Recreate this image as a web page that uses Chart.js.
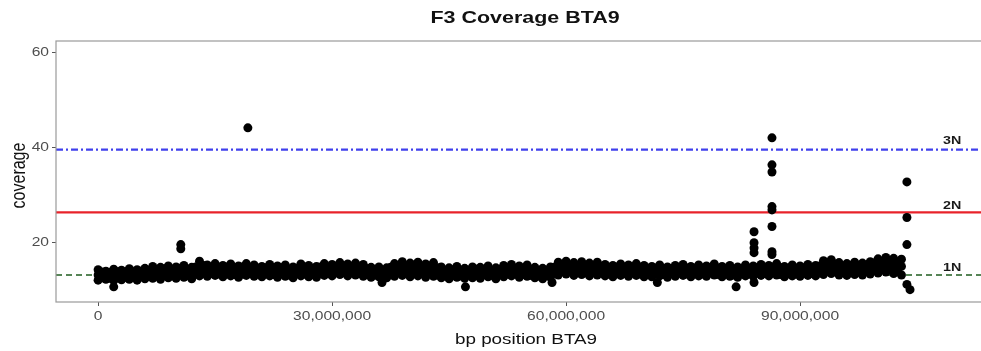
<!DOCTYPE html>
<html>
<head>
<meta charset="utf-8">
<script src="https://cdn.jsdelivr.net/npm/chart.js@4.4.1/dist/chart.umd.min.js"></script>
<style>
  body { margin: 0; background: #fff; }
  canvas { display: block; }
</style>
</head>
<body>
<canvas id="coverageChart" width="981" height="351"></canvas>
<script>
// posiciones en Mb, filas de la banda de cobertura
const bandPos = [0,1,2,3,4,5,6,7,8,9,10,11,12,13,14,15,16,17,18,19,20,21,22,23,24,25,26,27,28,29,30,31,32,33,34,35,36,37,38,39,40,41,42,43,44,45,46,47,48,49,50,51,52,53,54,55,56,57,58,59,60,61,62,63,64,65,66,67,68,69,70,71,72,73,74,75,76,77,78,79,80,81,82,83,84,85,86,87,88,89,90,91,92,93,94,95,96,97,98,99,100,101,102,103];
const bandHigh = [14.3,14.0,14.4,14.2, 14.5,14.3,14.6, 15.0,14.8,15.1, 14.9,15.2,14.8, 16.1,
  15.3,15.6,15.2,15.5,15.1,15.6,15.3, 15.0,15.4,15.1,15.3,14.9,15.5,15.2,15.0,
  15.6,15.4,15.8,15.5,15.7,15.4, 14.8,14.9,14.7, 15.6,16.0,15.7,15.9,15.5,15.8,
  14.9,14.7,15.0,14.6,14.9,14.8,15.1,14.7, 15.2,15.4,15.1,15.3, 14.8,14.6,14.9,
  15.9,16.1,15.8,16.0,15.7,15.9, 15.4,15.2,15.5,15.3,15.6,15.2,
  15.0,15.3,14.9,15.2,15.4,15.0,15.3,15.1,15.5,15.0,15.2,14.9,15.3,15.1,15.4,15.2,15.6,15.0,15.3,15.1,15.4,15.2,
  16.2,16.4, 15.8,15.6,15.9,15.7,16.0, 16.6,16.9,16.7,16.5];
const bandMid = [13.2,13.4,13.1,13.3, 13.4,13.2,13.5, 13.8,13.6,13.9, 13.7,14.0,13.8, 14.6,
  14.1,14.3,14.0,14.2,13.9,14.3,14.1, 14.0,14.2,13.9,14.1,13.8,14.2,14.0,13.9,
  14.3,14.2,14.5,14.2,14.4,14.1, 13.8,13.9,13.7, 14.3,14.6,14.4,14.5,14.2,14.4,
  13.8,13.6,13.9,13.7,13.8,13.7,14.0,13.6, 14.1,14.2,14.0,14.1, 13.7,13.6,13.8,
  14.6,14.8,14.5,14.7,14.4,14.6, 14.2,14.0,14.3,14.1,14.3,14.0,
  13.9,14.1,13.8,14.0,14.2,13.9,14.1,14.0,14.3,13.9,14.0,13.8,14.1,14.0,14.2,14.1,14.4,13.9,14.1,14.0,14.2,14.1,
  14.8,15.0, 14.5,14.4,14.6,14.5,14.7, 15.2,15.4,15.3,15.0];
const bandLow = [12.1,12.3,12.0,12.2, 12.3,12.1,12.4, 12.5,12.3,12.6, 12.5,12.7,12.4, 13.0,
  12.9,13.1,12.8,13.0,12.7,13.1,12.9, 12.8,13.0,12.7,12.9,12.6,13.0,12.8,12.7,
  13.1,13.0,13.3,13.0,13.2,12.9, 12.7,12.8,12.6, 12.9,13.1,12.8,13.0,12.7,12.9,
  12.6,12.4,12.7,12.5,12.6,12.5,12.8,12.4, 12.8,13.0,12.7,12.9, 12.6,12.4,12.7,
  13.2,13.4,13.1,13.3,13.0,13.2, 13.0,12.8,13.1,12.9,13.1,12.8,
  12.8,13.0,12.7,12.9,13.1,12.8,13.0,12.9,13.2,12.8,12.9,12.7,13.0,12.9,13.1,13.0,13.2,12.8,13.0,12.9,13.1,13.0,
  13.3,13.5, 13.2,13.1,13.3,13.2,13.4, 13.6,13.8,13.5,13.2];

// filas intermedias, en medio Mb
const halfPos = [0.5,1.5,2.5,3.5,4.5,5.5,6.5,7.5,8.5,9.5,10.5,11.5,12.5,13.5,14.5,15.5,16.5,17.5,18.5,19.5,20.5,21.5,22.5,23.5,24.5,25.5,26.5,27.5,28.5,29.5,30.5,31.5,32.5,33.5,34.5,35.5,36.5,37.5,38.5,39.5,40.5,41.5,42.5,43.5,44.5,45.5,46.5,47.5,48.5,49.5,50.5,51.5,52.5,53.5,54.5,55.5,56.5,57.5,58.5,59.5,60.5,61.5,62.5,63.5,64.5,65.5,66.5,67.5,68.5,69.5,70.5,71.5,72.5,73.5,74.5,75.5,76.5,77.5,78.5,79.5,80.5,81.5,82.5,83.5,84.5,85.5,86.5,87.5,88.5,89.5,90.5,91.5,92.5,93.5,94.5,95.5,96.5,97.5,98.5,99.5,100.5,101.5,102.5];
const halfUpper = [13.8,13.7,13.9,13.8, 13.9,14.0,14.2, 14.4,14.5,14.4, 14.6,14.3,14.9, 15.2,
  14.9,14.7,14.8,14.6,14.9,14.7,14.5, 14.7,14.5,14.7,14.4,14.6,14.8,14.5,14.9,
  14.9,15.0,15.1,15.0,14.9,14.5, 14.3,14.2,14.8, 15.2,15.1,15.3,15.0,15.1,14.7,
  14.2,14.3,14.1,14.2,14.4,14.3,14.2,14.4, 14.7,14.6,14.6,14.4, 14.1,14.2,14.8,
  15.4,15.3,15.2,15.3,15.2,15.0, 14.7,14.8,14.8,14.9,14.7,14.5,
  14.6,14.5,14.5,14.7,14.6,14.6,14.6,14.7,14.6,14.5,14.4,14.5,14.6,14.7,14.7,14.8,14.7,14.5,14.6,14.7,14.7,15.1,
  15.6,15.5, 15.1,15.2,15.2,15.3,15.7, 16.1,16.2,15.9];
const halfLower = [12.6,12.5,12.7,12.7, 12.7,12.8,12.9, 12.9,13.1,13.0, 13.2,13.1,13.6, 13.8,
  13.5,13.4,13.6,13.3,13.4,13.6,13.4, 13.5,13.3,13.4,13.2,13.5,13.4,13.3,13.6,
  13.7,13.8,13.7,13.8,13.5,13.3, 13.2,13.1,13.5, 13.7,13.8,13.6,13.5,13.6,13.2,
  13.0,13.1,13.0,13.2,13.1,13.3,13.1,13.4, 13.4,13.5,13.3,13.1, 13.0,13.1,13.6,
  13.9,14.0,13.8,13.7,13.9,13.6, 13.4,13.6,13.5,13.6,13.4,13.3,
  13.4,13.3,13.5,13.6,13.4,13.5,13.4,13.6,13.3,13.4,13.2,13.5,13.4,13.6,13.5,13.7,13.3,13.5,13.4,13.6,13.5,13.8,
  14.1,13.9, 13.8,13.9,13.8,14.0,14.3, 14.5,14.4,14.1];

// puntos sueltos (Mb, cobertura)
const outlierPos = [2.0, 10.6, 10.6, 19.2, 36.4, 47.1, 58.2, 71.7, 81.8, 84.1,
  84.1, 84.1, 84.1, 84.1,
  86.4, 86.4, 86.4, 86.4, 86.4, 86.4, 86.4, 86.4,
  103.7, 103.7, 103.7, 103.7, 104.1];
const outlierCov = [10.7, 19.6, 18.7, 44.2, 11.6, 10.7, 11.6, 11.6, 10.7, 11.6,
  22.3, 20.0, 18.9, 17.9,
  42.1, 36.4, 34.9, 27.6, 26.9, 23.4, 18.1, 17.5,
  32.8, 25.3, 19.6, 11.2, 10.1];

// niveles de ploidía
const ploidyLabels = ['1N', '2N', '3N'];
const ploidyLevels = [13.2, 26.4, 39.6];
const ploidyLabelY = [14.7, 27.7, 41.5];
const ploidyLabelX = 109.5e6;

const xTicks = [0, 30000000, 60000000, 90000000];
const yTicks = [20, 40, 60];
const xMin = -5.4e6, xMax = 113.2e6;
const yMin = 7.5, yMax = 62.5;

const MB = 1e6;
const points = [];
bandPos.forEach((p, i) => {
    points.push({ x: p * MB, y: bandHigh[i] });
    points.push({ x: p * MB, y: bandMid[i] });
    points.push({ x: p * MB, y: bandLow[i] });
});
halfPos.forEach((p, i) => {
    points.push({ x: p * MB, y: halfUpper[i] });
    points.push({ x: p * MB, y: halfLower[i] });
});
outlierPos.forEach((p, i) => points.push({ x: p * MB, y: outlierCov[i] }));

const lineStyles = [
    { color: '#1f5c1f', width: 1.6, dash: [6, 4] },
    { color: '#e8222a', width: 2.2, dash: [] },
    { color: '#4040ec', width: 2.2, dash: [7, 3, 2, 3] }
];

// texto estirado en horizontal como en la imagen original
const SX = 1.3;
function drawText(ctx, txt, x, y, font, color, align, rotate) {
    ctx.save();
    ctx.translate(x, y);
    ctx.scale(SX, 1);
    if (rotate) ctx.rotate(rotate);
    ctx.font = font;
    ctx.fillStyle = color;
    ctx.textAlign = align || 'center';
    ctx.textBaseline = 'middle';
    ctx.fillText(txt, 0, 0);
    ctx.restore();
}

const FONT = '"Liberation Sans", Arial, sans-serif';

const decorPlugin = {
    id: 'decor',
    afterDraw(chart) {
        const ctx = chart.ctx;
        const a = chart.chartArea;
        const xs = chart.scales.x, ys = chart.scales.y;

        // marco del panel
        ctx.save();
        ctx.strokeStyle = '#9a9a9a';
        ctx.lineWidth = 1.2;
        ctx.strokeRect(a.left, a.top, a.right - a.left + 2, a.bottom - a.top);
        ctx.restore();

        xTicks.forEach(v => {
            drawText(ctx, v.toLocaleString('en-US'), xs.getPixelForValue(v), 317,
                '12px ' + FONT, '#4d4d4d', 'center');
        });
        yTicks.forEach(v => {
            drawText(ctx, String(v), 49, ys.getPixelForValue(v),
                '12px ' + FONT, '#4d4d4d', 'right');
        });

        drawText(ctx, 'F3 Coverage BTA9', 525, 18, 'bold 16.5px ' + FONT, '#111', 'center');
        drawText(ctx, 'bp position BTA9', 526, 340, '14.5px ' + FONT, '#111', 'center');
        drawText(ctx, 'coverage', 19, (a.top + a.bottom) / 2 + 4, '16px ' + FONT, '#111', 'center', -Math.PI / 2);

        ploidyLabels.forEach((t, i) => {
            drawText(ctx, t, xs.getPixelForValue(ploidyLabelX), ys.getPixelForValue(ploidyLabelY[i]),
                'bold 11px ' + FONT, '#1a1a1a', 'center');
        });
    }
};

const datasets = [{
    label: 'coverage',
    data: points,
    backgroundColor: '#000',
    borderColor: '#000',
    pointRadius: 4.5,
    pointBorderWidth: 0,
    order: 0
}];
ploidyLevels.forEach((lv, i) => {
    datasets.push({
        type: 'line',
        label: ploidyLabels[i],
        data: [{ x: xMin, y: lv }, { x: xMax, y: lv }],
        borderColor: lineStyles[i].color,
        borderWidth: lineStyles[i].width,
        borderDash: lineStyles[i].dash,
        pointRadius: 0,
        fill: false,
        order: 1
    });
});

new Chart(document.getElementById('coverageChart'), {
    type: 'scatter',
    data: { datasets: datasets },
    options: {
        responsive: false,
        animation: false,
        devicePixelRatio: 1,
        layout: { padding: { top: 41, left: 0, right: 0, bottom: 0 }, autoPadding: false },
        plugins: { legend: { display: false }, tooltip: { enabled: false }, title: { display: false } },
        scales: {
            x: {
                type: 'linear',
                min: xMin,
                max: xMax,
                afterBuildTicks: s => { s.ticks = xTicks.map(v => ({ value: v })); },
                afterFit: s => { s.height = 49; },
                ticks: { display: false },
                grid: { drawOnChartArea: false, drawTicks: true, tickLength: 4, color: '#555' },
                border: { display: false }
            },
            y: {
                min: yMin,
                max: yMax,
                afterBuildTicks: s => { s.ticks = yTicks.map(v => ({ value: v })); },
                afterFit: s => { s.width = 56; },
                ticks: { display: false },
                grid: { drawOnChartArea: false, drawTicks: true, tickLength: 4, color: '#555' },
                border: { display: false }
            }
        }
    },
    plugins: [decorPlugin]
});
</script>
</body>
</html>
